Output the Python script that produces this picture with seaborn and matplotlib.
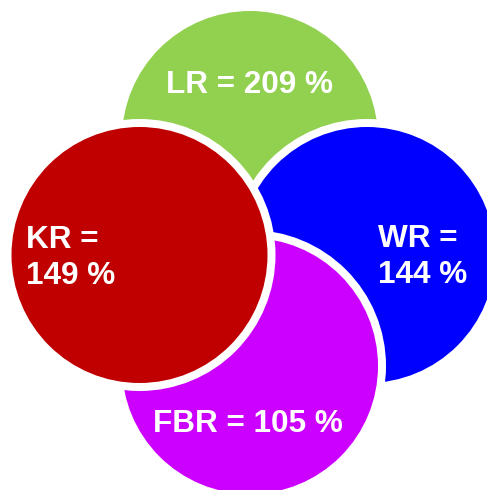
import matplotlib
matplotlib.use("Agg")
import matplotlib.pyplot as plt
import seaborn as sns
import pandas as pd

# Ratios shown in each circle (back to front drawing order)
names = ["LR", "WR", "FBR", "KR"]
values = [209, 144, 105, 149]
colors = ["#92D050", "#0000FF", "#CC00FF", "#C00000"]

# Layout: circle centres (pixel-like units, y downward) and shared radius
centers_x = [250, 367, 250, 139.5]
centers_y = [139, 255, 366, 255]
radius = 132
edge_px = 8

# Label placement: anchor x, alignment, first baseline, lines
label_x = [250, 378, 247.5, 25.5]
label_ha = ["center", "left", "center", "left"]
label_y = [93, 247, 432, 248]
line_gap = 36

sns.set_theme(style="white")
plt.rcParams["font.family"] = ["Liberation Sans", "DejaVu Sans"]

W, H, DPI = 487, 490, 100
fig = plt.figure(figsize=(W / DPI, H / DPI), dpi=DPI)
ax = fig.add_axes([0, 0, 1, 1])
ax.set_xlim(0, W)
ax.set_ylim(H, 0)
ax.set_axis_off()

df = pd.DataFrame({"name": names, "value": values,
                   "x": centers_x, "y": centers_y})

# marker size (points^2) giving the requested radius in data units
px_per_unit = (ax.get_position().width * W) / W
diam_pt = 2 * radius * px_per_unit * 72 / DPI
sns.scatterplot(data=df, x="x", y="y", hue="name", palette=colors,
                hue_order=names, s=diam_pt ** 2, marker="o",
                edgecolor="white", linewidth=edge_px * 72 / DPI,
                legend=False, ax=ax, zorder=2)
ax.set_xlim(0, W)
ax.set_ylim(H, 0)
ax.set_axis_off()

for i, (n, v) in enumerate(zip(names, values)):
    if label_ha[i] == "left":
        lines = [f"{n} =", f"{v} %"]
    else:
        lines = [f"{n} = {v} %"]
    for j, line in enumerate(lines):
        ax.text(label_x[i], label_y[i] + j * line_gap, line,
                ha=label_ha[i], va="baseline", color="white",
                fontsize=22.7, fontweight="bold", zorder=5)

fig.savefig("out.png", dpi=DPI)
